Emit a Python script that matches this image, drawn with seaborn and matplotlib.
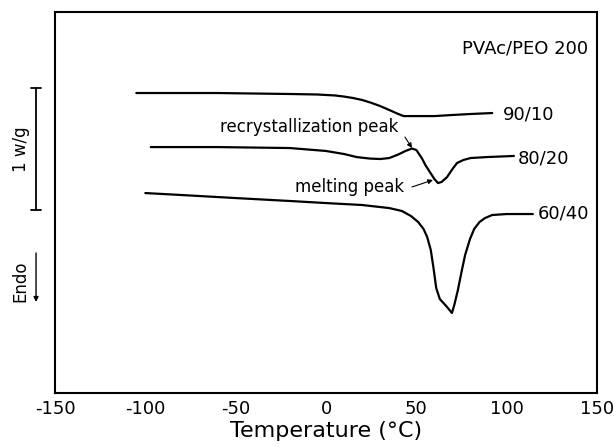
import numpy as np
import pandas as pd
import matplotlib
matplotlib.use("Agg")
import matplotlib.pyplot as plt
import seaborn as sns

# DSC heating traces of PVAc/PEO 200 blends (heat flow in W/g, arbitrary offset)
temp_90_10 = [-105, -60, -20, -5, 5, 10, 15, 20, 25, 30, 35, 40, 43, 50, 60, 70, 80, 92]
flow_90_10 = [2.459, 2.459, 2.451, 2.447, 2.439, 2.430, 2.418, 2.402, 2.379, 2.352,
              2.320, 2.287, 2.270, 2.270, 2.270, 2.279, 2.287, 2.295]

temp_80_20 = [-97, -60, -20, 0, 10, 17, 24, 30, 35, 40, 44, 47.6, 50, 53, 55, 57.5,
              60, 62, 64, 67, 70, 72.5, 76, 80, 89, 104]
flow_80_20 = [2.016, 2.016, 2.008, 1.984, 1.959, 1.934, 1.922, 1.918, 1.926, 1.955,
              1.984, 2.004, 1.992, 1.926, 1.869, 1.811, 1.754, 1.721, 1.730, 1.770,
              1.836, 1.885, 1.910, 1.926, 1.934, 1.943]

temp_60_40 = [-100, -80, -50, -20, 0, 20, 35, 42, 47, 51, 54, 56, 58, 59.5, 61, 63,
              65, 67, 69.7, 71, 73, 75, 77, 79.7, 82, 85, 88, 92, 100, 114.5]
flow_60_40 = [1.639, 1.623, 1.598, 1.574, 1.557, 1.541, 1.516, 1.492, 1.451, 1.402,
              1.344, 1.279, 1.172, 1.025, 0.861, 0.770, 0.738, 0.705, 0.656, 0.721,
              0.844, 0.992, 1.131, 1.262, 1.344, 1.402, 1.434, 1.459, 1.467, 1.467]

blend_labels = ["90/10", "80/20", "60/40"]
x_ticks = [-150, -100, -50, 0, 50, 100, 150]

frames = []
for lab, t, f in zip(blend_labels,
                     [temp_90_10, temp_80_20, temp_60_40],
                     [flow_90_10, flow_80_20, flow_60_40]):
    frames.append(pd.DataFrame({"T": t, "q": f, "blend": lab}))
df = pd.concat(frames, ignore_index=True)

sns.set_style("white")
plt.rcParams["font.family"] = ["DejaVu Sans"]
plt.rcParams["text.color"] = "black"
plt.rcParams["axes.labelcolor"] = "black"
plt.rcParams["axes.unicode_minus"] = False

fig = plt.figure(figsize=(6.14, 4.47), dpi=100)
ax = fig.add_axes([0.0896, 0.1208, 0.8827, 0.8523])

sns.lineplot(data=df, x="T", y="q", hue="blend", units="blend", estimator=None,
             sort=False, palette=["black"] * 3, linewidth=1.6, legend=False, ax=ax)

ax.set_xlim(-150, 150)
ax.set_ylim(0, 3.123)
ax.set_xticks(x_ticks)
ax.set_xticks(np.arange(-125, 150, 50), minor=True)
ax.tick_params(axis="x", which="both", direction="in", length=4, width=1.2,
               labelsize=13, pad=5, colors="black")
ax.set_yticks([])
ax.set_xlabel("Temperature (°C)", fontsize=16, labelpad=2, color="black")
ax.set_ylabel("")
for s in ax.spines.values():
    s.set_visible(True)
    s.set_color("black")
    s.set_linewidth(1.5)

# curve labels
label_pos = {"90/10": (97.9, 2.279), "80/20": (106.2, 1.926), "60/40": (117.3, 1.475)}
for lab, (x, y) in label_pos.items():
    ax.text(x, y, lab, fontsize=13, ha="left", va="center", color="black")

ax.text(145, 2.828, "PVAc/PEO 200", fontsize=13, ha="right", va="center", color="black")

# peak annotations
ax.text(-58.7, 2.18, "recrystallization peak", fontsize=12, ha="left", va="center",
        color="black")
ax.annotate("", xy=(47.6, 2.008), xytext=(43.7, 2.098),
            arrowprops=dict(arrowstyle="-|>", color="black", lw=0.8,
                            mutation_scale=7, shrinkA=0, shrinkB=0))
ax.text(-17.2, 1.689, "melting peak", fontsize=12, ha="left", va="center", color="black")
ax.annotate("", xy=(59.2, 1.746), xytext=(47.6, 1.689),
            arrowprops=dict(arrowstyle="-|>", color="black", lw=0.8,
                            mutation_scale=7, shrinkA=0, shrinkB=0))

# 1 W/g scale bar and endotherm direction, left of the frame
tr = ax.get_yaxis_transform()
ax.plot([-0.035, -0.035], [1.5, 2.5], color="black", lw=1.3, transform=tr, clip_on=False)
for yy in (1.5, 2.5):
    ax.plot([-0.044, -0.026], [yy, yy], color="black", lw=1.3, transform=tr, clip_on=False)
ax.text(-0.063, 2.0, "1 w/g", rotation=90, fontsize=12, ha="center", va="center",
        transform=tr, color="black")
ax.text(-0.063, 0.918, "Endo", rotation=90, fontsize=12, ha="center", va="center",
        transform=tr, color="black")
ax.annotate("", xy=(-0.035, 0.746), xytext=(-0.035, 1.148), xycoords=tr, textcoords=tr,
            arrowprops=dict(arrowstyle="-|>", color="black", lw=1.0,
                            mutation_scale=7, shrinkA=0, shrinkB=0))

fig.savefig("out.png", dpi=100)
